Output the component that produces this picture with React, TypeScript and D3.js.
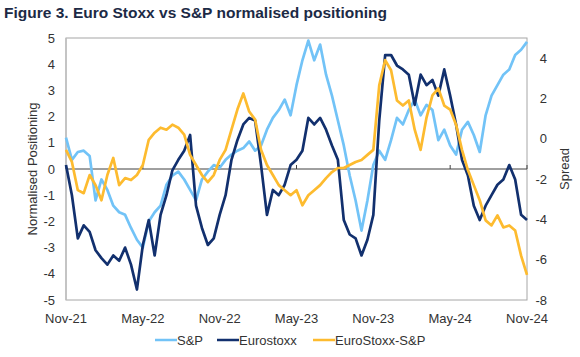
import React from "react";
import * as d3 from "d3";

const tickLabels = ["Nov-21", "May-22", "Nov-22", "May-23", "Nov-23", "May-24", "Nov-24"];
const leftTicks = [-5, -4, -3, -2, -1, 0, 1, 2, 3, 4, 5];
const rightTicks = [-8, -6, -4, -2, 0, 2, 4];

// biweekly observations, Nov-21 .. Nov-24 (79 points)
const sp = [
  1.2, 0.35, 0.65, 0.7, 0.5, -1.2, -0.4, -0.8, -1.4, -1.65,
  -1.75, -2.25, -2.7, -3.0, -2.0, -1.65, -1.4, -0.6, -0.25, -0.1,
  -0.4, -0.8, -1.2, -0.4, -0.1, 0.15, 0.05, 0.35, 0.55, 0.7,
  0.8, 1.05, 0.7, 0.9, 1.5, 1.95, 2.25, 2.65, 2.05, 3.2,
  4.15, 4.9, 4.15, 4.75, 3.6, 2.8, 1.85, 0.9, -0.25, -1.2,
  -2.35, -1.2, 0.15, 0.7, 0.35, 1.1, 1.95, 1.7, 2.25, 2.65,
  2.05, 2.45, 2.25, 1.1, 1.5, 0.9, 0.55, 1.5, 1.8, 1.3,
  0.65, 2.05, 2.8, 3.2, 3.6, 3.8, 4.35, 4.55, 4.85,
];
const eurostoxx = [
  0.15, -1.0, -2.65, -2.15, -2.4, -3.1, -3.4, -3.65, -3.3, -3.5,
  -3.0, -3.65, -4.6, -2.9, -1.95, -3.3, -1.75, -1.0, -0.05, 0.35,
  0.7, 1.3, -1.4, -2.25, -2.9, -2.65, -1.75, -1.0, 0.35, 1.1,
  1.7, 1.95, 1.85, 0.15, -1.75, -0.8, -1.0, -0.6, 0.15, 0.35,
  0.7, 1.95, 1.7, 1.95, 1.5, 0.9, 0.35, -1.95, -2.5, -2.65,
  -3.3, -2.7, -1.75, 1.85, 4.35, 4.35, 3.95, 3.8, 3.6, 2.45,
  3.6, 3.2, 3.4, 2.8, 3.8, 2.8, 1.7, 0.35, -0.25, -1.4,
  -1.95, -1.4, -1.0, -0.6, -0.4, 0.15, -0.4, -1.75, -1.95,
];
const spread = [
  -0.55, -1.15, -2.55, -2.7, -1.8, -2.3, -3.05, -1.8, -0.95, -2.3,
  -1.95, -2.05, -1.8, -1.3, -0.05, 0.3, 0.55, 0.45, 0.7, 0.55,
  0.2, -0.8, -1.3, -1.8, -2.15, -1.8, -1.05, -0.55, 0.45, 1.45,
  2.25, 1.35, 0.95, -0.55, -1.3, -1.8, -2.3, -2.55, -2.8, -2.55,
  -3.3, -2.8, -2.55, -2.3, -1.95, -1.65, -1.45, -1.45, -1.3, -1.15,
  -1.05, -0.8, -0.55, 2.65, 3.9, 3.4, 1.9, 1.65, 1.9, 0.45,
  -0.55, 1.05, 2.15, 2.5, 1.65, 1.45, 0.7, -0.55, -1.55, -2.3,
  -3.05, -4.05, -4.3, -3.8, -4.4, -4.3, -4.55, -5.8, -6.75,
];

const seriesNames = ["S&P", "Eurostoxx", "EuroStoxx-S&P"];
const colors = ["#72c3f7", "#12306e", "#fdbb2f"];

const W = 580, H = 357;
const L = 66, R = 527, T = 38, B = 300;

export default function App() {
  const x = d3.scaleLinear().domain([0, sp.length - 1]).range([L, R]);
  const yL = d3.scaleLinear().domain([-5, 5]).range([B, T]);
  const yR = d3.scaleLinear().domain([-8, 5]).range([B, T]);
  const lineL = d3.line<number>().x((_, i) => x(i)).y((d) => yL(d));
  const lineR = d3.line<number>().x((_, i) => x(i)).y((d) => yR(d));
  const step = (sp.length - 1) / (tickLabels.length - 1);
  const font = "'Liberation Sans', Arial, sans-serif";
  const legendX = [155, 217, 313];

  return (
    <svg width={W} height={H} style={{ position: "absolute", left: 0, top: 0 }}>
      <rect width={W} height={H} fill="#fff" />
      <text x={4} y={18} fontFamily={font} fontWeight="bold" fontSize={15.5} fill="#1c2a45">
        Figure 3. Euro Stoxx vs S&amp;P normalised positioning
      </text>
      <rect x={L} y={T} width={R - L} height={B - T} fill="none" stroke="#a6a6a6" strokeWidth={1} />
      <line x1={L} x2={L} y1={T} y2={B} stroke="#bfbfbf" strokeWidth={1.5} />
      <line x1={L} x2={R} y1={yL(0)} y2={yL(0)} stroke="#404040" strokeWidth={1} />
      {tickLabels.map((t, k) => (
        <line key={"tk" + k} x1={x(k * step)} x2={x(k * step)} y1={yL(0) - 4} y2={yL(0)} stroke="#404040" strokeWidth={1} />
      ))}
      <path d={lineL(sp) || ""} fill="none" stroke={colors[0]} strokeWidth={2.7} strokeLinejoin="round" />
      <path d={lineL(eurostoxx) || ""} fill="none" stroke={colors[1]} strokeWidth={2.7} strokeLinejoin="round" />
      <path d={lineR(spread) || ""} fill="none" stroke={colors[2]} strokeWidth={2.7} strokeLinejoin="round" />
      {leftTicks.map((t) => (
        <text key={"l" + t} x={55} y={yL(t)} dy="0.35em" textAnchor="end" fontFamily={font} fontSize={13} fill="#333">
          {t}
        </text>
      ))}
      {rightTicks.map((t) => (
        <text key={"r" + t} x={547} y={yR(t)} dy="0.35em" textAnchor="end" fontFamily={font} fontSize={13} fill="#333">
          {t}
        </text>
      ))}
      {tickLabels.map((t, k) => (
        <text key={"x" + k} x={x(k * step)} y={323} textAnchor="middle" fontFamily={font} fontSize={13} fill="#333">
          {t}
        </text>
      ))}
      <text transform={`translate(37,${(T + B) / 2}) rotate(-90)`} textAnchor="middle" fontFamily={font} fontSize={13} fill="#333">
        Normalised Positioning
      </text>
      <text transform={`translate(569,${(T + B) / 2}) rotate(-90)`} textAnchor="middle" fontFamily={font} fontSize={13} fill="#333">
        Spread
      </text>
      {seriesNames.map((n, k) => (
        <g key={"lg" + k}>
          <line x1={legendX[k]} x2={legendX[k] + 22} y1={340} y2={340} stroke={colors[k]} strokeWidth={2.5} />
          <text x={legendX[k] + 22} y={344.5} fontFamily={font} fontSize={13} fill="#333">
            {n}
          </text>
        </g>
      ))}
    </svg>
  );
}
